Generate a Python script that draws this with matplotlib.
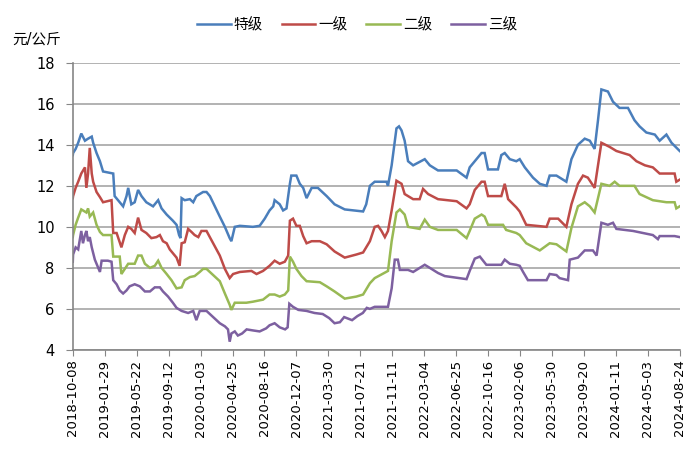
import matplotlib
matplotlib.use("Agg")
import matplotlib.pyplot as plt

plt.rcParams['font.family'] = ['DejaVu Sans', 'Noto Sans CJK SC']

tick_labels = ["2018-10-08", "2019-01-29", "2019-05-22", "2019-09-12", "2020-01-03",
               "2020-04-25", "2020-08-16", "2020-12-07", "2021-03-30", "2021-07-21",
               "2021-11-11", "2022-03-04", "2022-06-25", "2022-10-16", "2023-02-06",
               "2023-05-30", "2023-09-20", "2024-01-11", "2024-05-03", "2024-08-24"]
tick_step = 113  # days between labelled dates

# day offsets from 2018-10-08 and prices (元/公斤)
# 特级
p_te = [0, 1, 10, 19, 30, 43, 54, 67, 72, 84, 96, 107, 143, 148, 166, 178, 190, 196, 207, 219,
        231, 243, 260, 284, 302, 314, 332, 354, 367, 376, 381, 385, 396, 414, 426, 437, 461, 473,
        485, 520, 538, 555, 561, 573, 591, 637, 661, 679, 696, 709, 714, 732, 744, 756, 768, 773,
        791, 803, 815, 827, 845, 867, 898, 926, 962, 1027, 1038, 1051, 1068, 1110, 1115, 1128,
        1145, 1154, 1163, 1174, 1186, 1204, 1245, 1263, 1292, 1358, 1393, 1404, 1428, 1446, 1457,
        1469, 1504, 1516, 1528, 1546, 1569, 1581, 1599, 1628, 1652, 1676, 1687, 1711, 1746, 1764,
        1787, 1811, 1829, 1846, 1858, 1870, 1893, 1911, 1934, 1964, 1987, 2005, 2029, 2059, 2076,
        2100, 2118, 2147]
v_te = [13.5, 13.6, 13.8, 14.1, 14.55, 14.2, 14.3, 14.4, 14.1, 13.6, 13.2, 12.7, 12.6, 11.5, 11.2,
        11.0, 11.5, 11.9, 11.1, 11.2, 11.8, 11.5, 11.2, 11.0, 11.3, 10.9, 10.6, 10.3, 10.1, 9.6,
        9.45, 11.4, 11.3, 11.35, 11.2, 11.5, 11.7, 11.7, 11.5, 10.5, 10.0, 9.45, 9.3, 10.0, 10.05,
        10.0, 10.05, 10.4, 10.8, 11.0, 11.3, 11.1, 10.8, 10.9, 12.1, 12.5, 12.5, 12.1, 11.9, 11.4,
        11.9, 11.9, 11.5, 11.1, 10.85, 10.75, 11.1, 12.0, 12.2, 12.2, 12.0, 13.0, 14.8, 14.9, 14.7,
        14.2, 13.2, 13.0, 13.3, 13.0, 12.75, 12.75, 12.4, 12.9, 13.3, 13.6, 13.6, 12.8, 12.8, 13.5,
        13.6, 13.3, 13.2, 13.3, 12.9, 12.4, 12.1, 12.0, 12.5, 12.5, 12.2, 13.3, 14.0, 14.3, 14.2,
        13.8, 15.2, 16.7, 16.6, 16.1, 15.8, 15.8, 15.2, 14.9, 14.6, 14.5, 14.2, 14.5, 14.1, 13.7]

# 一级
p_1 = [0, 1, 10, 19, 30, 43, 48, 54, 60, 67, 72, 84, 96, 107, 137, 143, 155, 172, 184, 196, 207,
       219, 231, 243, 260, 278, 296, 308, 319, 332, 343, 367, 378, 385, 396, 408, 420, 431, 444, 455,
       473, 520, 538, 555, 567, 591, 632, 650, 673, 696, 714, 732, 750, 762, 768, 779, 791, 803,
       815, 827, 845, 874, 898, 926, 962, 1003, 1027, 1051, 1068, 1080, 1092, 1104, 1115, 1128,
       1145, 1163, 1174, 1204, 1227, 1239, 1257, 1292, 1358, 1393, 1404, 1422, 1446, 1457, 1469,
       1516, 1528, 1540, 1569, 1581, 1604, 1676, 1687, 1717, 1746, 1764, 1787, 1805, 1822, 1846,
       1870, 1899, 1923, 1970, 1994, 2024, 2052, 2076, 2129, 2135, 2147]
v_1 = [11.4, 11.5, 11.9, 12.2, 12.6, 12.9, 11.9, 12.6, 13.85, 12.6, 12.2, 11.7, 11.45, 11.2, 11.3,
       9.7, 9.7, 9.0, 9.6, 10.0, 9.9, 9.7, 10.45, 9.85, 9.7, 9.45, 9.5, 9.6, 9.3, 9.2, 8.9, 8.5,
       8.1, 9.2, 9.25, 9.9, 9.75, 9.6, 9.5, 9.8, 9.8, 8.6, 7.95, 7.5, 7.7, 7.8, 7.85, 7.7, 7.85,
       8.1, 8.35, 8.2, 8.3, 8.6, 10.3, 10.4, 10.05, 10.05, 9.55, 9.2, 9.3, 9.3, 9.15, 8.8, 8.5,
       8.65, 8.75, 9.3, 10.0, 10.05, 9.8, 9.5, 9.8, 10.8, 12.25, 12.1, 11.6, 11.35, 11.35, 11.85,
       11.6, 11.35, 11.25, 10.9, 11.1, 11.8, 12.2, 12.2, 11.5, 11.5, 12.1, 11.35, 10.95, 10.75,
       10.1, 10.0, 10.4, 10.4, 10.0, 11.1, 12.1, 12.5, 12.4, 11.9, 14.1, 13.9, 13.7, 13.5, 13.2,
       13.0, 12.9, 12.6, 12.6, 12.2, 12.3]

# 二级
p_2 = [0, 1, 10, 19, 30, 48, 54, 60, 72, 84, 96, 107, 137, 143, 166, 172, 184, 196, 219, 231,
       243, 255, 273, 290, 302, 314, 332, 349, 367, 385, 396, 414, 431, 449, 461, 473, 520, 538,
       555, 561, 573, 614, 637, 673, 696, 714, 732, 750, 762, 768, 779, 791, 809, 827, 874, 898,
       926, 962, 1003, 1027, 1051, 1068, 1115, 1128, 1145, 1157, 1174, 1186, 1227, 1245, 1263,
       1292, 1358, 1393, 1404, 1422, 1446, 1457, 1469, 1522, 1533, 1569, 1581, 1604, 1652, 1687,
       1711, 1746, 1764, 1787, 1811, 1829, 1846, 1870, 1899, 1917, 1934, 1987, 2005, 2052, 2100,
       2129, 2135, 2147]
v_2 = [9.5, 9.6, 10.1, 10.45, 10.85, 10.7, 10.9, 10.5, 10.7, 10.1, 9.75, 9.6, 9.6, 8.55, 8.55,
       7.7, 7.95, 8.2, 8.2, 8.6, 8.6, 8.2, 8.0, 8.1, 8.35, 8.0, 7.7, 7.4, 7.0, 7.05, 7.4, 7.55,
       7.6, 7.8, 7.95, 7.95, 7.35, 6.75, 6.2, 5.95, 6.3, 6.3, 6.35, 6.45, 6.7, 6.7, 6.6, 6.7, 6.9,
       8.55, 8.3, 7.95, 7.6, 7.35, 7.3, 7.1, 6.85, 6.5, 6.6, 6.7, 7.25, 7.5, 7.85, 9.3, 10.7,
       10.85, 10.6, 10.0, 9.9, 10.35, 10.0, 9.85, 9.85, 9.45, 9.8, 10.4, 10.6, 10.5, 10.1, 10.1,
       9.85, 9.7, 9.6, 9.2, 8.85, 9.2, 9.15, 8.8, 9.95, 11.0, 11.2, 11.0, 10.7, 12.1, 12.0, 12.2,
       12.0, 12.0, 11.6, 11.3, 11.2, 11.2, 10.9, 11.0]

# 三级
p_3 = [0, 1, 10, 19, 30, 36, 43, 48, 54, 60, 67, 78, 96, 102, 124, 137, 143, 155, 166, 178, 190,
       201, 219, 237, 255, 273, 290, 308, 319, 337, 354, 367, 385, 408, 426, 437, 449, 473, 520,
       538, 549, 555, 561, 573, 584, 599, 615, 637, 661, 684, 696, 714, 732, 751, 760, 766, 779,
       798, 827, 855, 884, 907, 926, 945, 960, 988, 1007, 1026, 1040, 1051, 1068, 1115, 1128,
       1139, 1150, 1157, 1186, 1204, 1245, 1263, 1292, 1316, 1393, 1404, 1422, 1440, 1463, 1516,
       1528, 1546, 1569, 1581, 1593, 1610, 1676, 1687, 1711, 1722, 1752, 1758, 1787, 1811, 1840,
       1853, 1870, 1893, 1911, 1923, 1982, 2052, 2070, 2076, 2129, 2147]
v_3 = [8.3, 8.65, 9.0, 8.9, 9.8, 9.2, 9.6, 9.8, 9.3, 9.5, 9.0, 8.4, 7.8, 8.35, 8.35, 8.3, 7.4, 7.2,
       6.9, 6.75, 6.9, 7.1, 7.2, 7.1, 6.85, 6.85, 7.05, 7.05, 6.85, 6.6, 6.3, 6.05, 5.9, 5.8, 5.9,
       5.45, 5.9, 5.9, 5.3, 5.15, 5.0, 4.4, 4.8, 4.9, 4.7, 4.8, 5.0, 4.95, 4.9, 5.05, 5.2, 5.3,
       5.1, 5.0, 5.1, 6.25, 6.1, 5.95, 5.9, 5.8, 5.75, 5.55, 5.3, 5.35, 5.6, 5.45, 5.65, 5.8,
       6.05, 6.0, 6.1, 6.1, 7.0, 8.4, 8.4, 7.9, 7.9, 7.8, 8.15, 8.0, 7.75, 7.6, 7.45, 7.85, 8.45,
       8.55, 8.15, 8.15, 8.4, 8.2, 8.15, 8.1, 7.8, 7.4, 7.4, 7.7, 7.65, 7.5, 7.4, 8.4, 8.5, 8.85,
       8.85, 8.6, 10.2, 10.1, 10.2, 9.9, 9.8, 9.6, 9.4, 9.55, 9.55, 9.5]

series_names = ["特级", "一级", "二级", "三级"]
colors = ["#4A7EBB", "#BE4B48", "#98B954", "#7D60A0"]

fig = plt.figure(figsize=(7, 4.55), dpi=100)
ax = fig.add_axes([0.104, 0.231, 0.867, 0.631])

for (p, v), name, c in zip([(p_te, v_te), (p_1, v_1), (p_2, v_2), (p_3, v_3)], series_names, colors):
    ax.plot(p, v, color=c, lw=1.8, label=name, solid_joinstyle='miter')

n_int = len(tick_labels) - 1
ax.set_xlim(0, n_int * tick_step)
ax.set_xticks([i * tick_step for i in range(len(tick_labels))])
ax.set_xticklabels(tick_labels, rotation=90, fontsize=9.5)
ax.set_ylim(4, 18)
ax.set_yticks(range(4, 19, 2))
ax.tick_params(axis='y', labelsize=10.5, length=5, color='#868686', pad=8)
ax.tick_params(axis='x', length=4, color='#868686', pad=3)

ax.yaxis.grid(True, color='#A6A6A6', lw=1.2)
ax.set_axisbelow(True)
for s in ['top', 'right']:
    ax.spines[s].set_visible(False)
for s in ['left', 'bottom']:
    ax.spines[s].set_color('#868686')
    ax.spines[s].set_linewidth(1.2)

fig.text(0.017, 0.915, "元/公斤", fontsize=10.5, ha='left', va='center')
fig.legend(loc='center', bbox_to_anchor=(0.51, 0.945), ncol=4, frameon=False,
           fontsize=10.5, handlelength=2.3, columnspacing=1.3, handletextpad=0.2)

fig.savefig("out.png", dpi=100)
